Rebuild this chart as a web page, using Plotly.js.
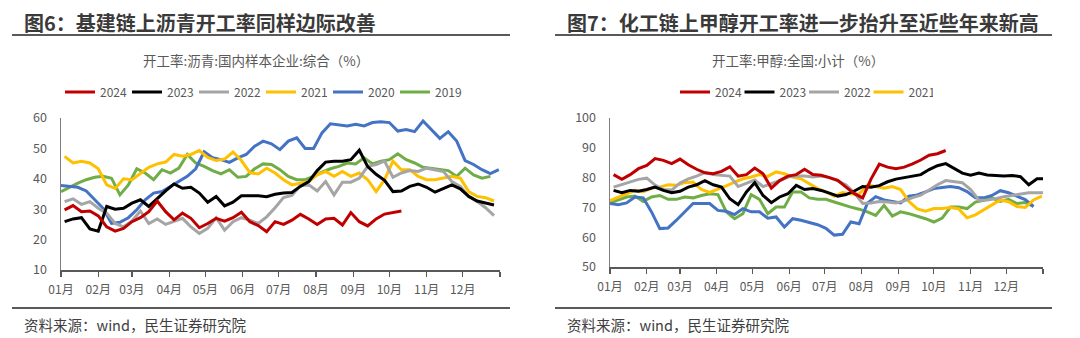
<!DOCTYPE html>
<html><head><meta charset="utf-8">
<script src="https://cdn.plot.ly/plotly-3.0.1.min.js"></script>
<style>html,body{margin:0;padding:0;background:#fff;}#chart{width:1080px;height:338px;}</style>
</head><body><div id="chart"></div>
<script>
// ---------- shared ----------
const monthLabels = ['01月','02月','03月','04月','05月','06月','07月','08月','09月','10月','11月','12月'];
const monthStarts = ['2001-01-01','2001-02-01','2001-03-01','2001-04-01','2001-05-01','2001-06-01','2001-07-01','2001-08-01','2001-09-01','2001-10-01','2001-11-01','2001-12-01','2002-01-01'];
const years = ['2024','2023','2022','2021','2020','2019'];
const yearColors = ['#C00000','#000000','#A5A5A5','#FFC000','#4472C4','#70AD47'];

// ---------- 图6 沥青开工率 (%) weekly ----------
const asphaltStart = ['2001-01-04','2001-01-04','2001-01-04','2001-01-04','2001-01-01','2001-01-01'];
const asphalt2024 = [29.8,31.2,29.2,29.4,27.8,24.2,22.8,23.7,25.9,27.2,29.2,32.7,29.2,26.5,28.7,27,23.9,25.3,27,26.1,27.2,29,25.9,24.6,22.6,25.9,25,26.4,28.3,26.8,25,26.8,27,24.8,28.9,25.9,24.5,26.8,28.4,28.9,29.4];
const asphalt2023 = [25.9,26.8,27.2,23.5,22.8,30.9,30,30.3,32,33.1,30.9,33.6,36,38.3,36.9,37.2,35.3,32.3,34.2,31.1,32.3,34.4,34.5,34.4,34.1,34.9,35.3,35.5,37.5,39.1,42.7,45.5,45.8,45.8,46.3,49.4,44,41.5,39.5,35.8,36,37.5,38.3,37.2,35.6,36.7,38,36.7,34.2,32.7,32,31.4];
const asphalt2022 = [32.5,33.4,31.6,32.5,30.3,28.7,25.3,24.2,26.1,29.4,25.3,26.8,25,25.9,27,24.2,22,23.7,27.2,23.1,25.9,27.2,26.4,25.3,27.5,30.5,33.8,34.5,37.8,38,36,39.1,34.7,38.9,38.9,40.2,44.1,44.7,45.8,40.5,41.9,42.7,42.4,43.5,43,42.4,39.1,37.5,34.2,32.5,30.5,27.9];
const asphalt2021 = [47.4,45.2,45.8,45.2,43.3,38,36.8,40,39.7,41.9,43.8,44.9,45.5,48,47.4,48,49.3,47,46,46.5,48.8,46,42,41.6,43.5,41.9,39.7,38,38.6,39.1,41.3,42.4,40.8,42.4,40.8,41.9,39.7,35.8,39.7,45.8,43,43,40.8,39.7,39.7,40.2,40.8,40.2,35.8,34.2,33.8,32.7];
const asphalt2020 = [37.8,37.5,37.2,36,33.1,30.3,25.3,25.7,27.2,29.8,33.1,35.3,35.8,37.5,39.1,40.8,43.3,48.9,46.9,46.3,45.4,46.9,48,50.7,52.4,51.5,49.6,52.4,53.5,50,50,55.1,58.1,57.7,57.4,57.9,57.4,58.5,58.8,58.5,55.7,56.2,55.5,59,56.2,53.3,55.5,52.4,46,44.7,43,41.7,43];
const asphalt2019 = [35.8,37.2,38.6,39.7,40.5,40.8,40.2,34.7,38,43.3,41.9,39.7,43,41.9,43.5,48,45.2,44.1,42.7,41.6,43,40.5,40.8,43.3,44.9,44.7,43,40.8,39.7,39.7,40.8,42.2,43.3,44.1,45.2,44.9,46.9,44.9,45.8,46.3,48.2,46.3,45.2,43.8,43.5,43,42.7,40.8,43.5,41.3,40.2,40.8];
const asphaltSeries = [asphalt2024,asphalt2023,asphalt2022,asphalt2021,asphalt2020,asphalt2019];

// ---------- 图7 甲醇开工率 (%) weekly ----------
const methanolStart = ['2001-01-04','2001-01-04','2001-01-04','2001-01-01','2001-01-01','2001-01-01'];
const methanol2024 = [81,79.4,81,83,84.1,86.4,85.8,84.7,86.2,84.3,82.8,81.6,81.3,82.1,83.6,80.5,81,83.2,81.3,76.5,79,80.5,81,82.8,81,80.8,80,79.1,76.8,74.6,73.2,79.5,84.5,83.5,83,83.5,84.6,85.9,87.5,88,89.1];
const methanol2023 = [75.7,74.9,75.7,75.4,76,76.8,75.7,74.9,75.4,76.8,77.6,79,77.6,76.8,72.9,70.9,75.2,78.3,74,71.6,73.5,74.6,77.4,76,76.3,75.7,74.8,73.8,74.3,75.5,77,76.8,77.3,78.6,79.5,80,80.4,81,82.7,84,84.7,83,81.5,80.8,81.5,80.9,80.7,80.5,80.7,80.3,77.6,79.6,79.6];
const methanol2022 = [76.8,77.6,78.5,79.4,79.8,77.5,76,75.8,78.2,79.6,80.5,81.7,81,80.8,80.5,77,78,79.2,77,77.9,79,80.2,80.5,80.5,80.2,80.5,80,78.9,77.5,74.9,71.3,71.5,72,71.8,71.5,72.2,73.3,74.1,75.8,77.6,79,78.7,78.3,76,72.4,72.5,72.9,73.6,74.1,74.6,74.9,74.9,74.9];
const methanol2021 = [72.3,73.5,74.6,75.7,75.3,76.5,76.8,77.6,77.4,78.3,78.5,76,75,76,77.2,78.5,79.6,80.2,81,80.4,81.9,81.3,80.2,79.6,78,76.3,75.2,73.8,75,74.5,74.5,77.5,77,76.4,77,76,72,69.5,68.7,69.6,69.6,70,69.5,66.5,67.5,69.2,71,72.5,71.9,70.3,70,72.5,73.8];
const methanol2020 = [71.3,70.9,71.5,73.5,73.2,68.5,62.9,63.1,65.7,68.5,71.3,71.3,71.3,69,68.7,67.6,69.6,68.5,68.5,66.4,66.8,63.4,66.2,65.7,65,64.2,63,60.7,61,65.1,64.5,71.4,73.6,72.5,72,71.5,73.8,74.2,75.2,76.3,76.7,77,76.6,75.3,73.2,73.2,74,75.6,74.9,73.8,72.6,70.3];
const methanol2019 = [71.5,72.5,73.5,73.8,72,73.5,74,72.7,72.7,73.5,73.2,74,74.6,74.3,68.5,66.2,67.9,74.3,72.7,67.9,70.1,70.1,75.2,75.2,73.2,72.7,72.7,71.8,70.9,70.1,69.4,68.5,67.3,70.7,67.1,68.5,67.9,67.1,66.2,65.1,66.4,70.1,70.1,69.6,71.8,72.4,73.2,72,72.7,71.3,71.6,70.3];
const methanolSeries = [methanol2024,methanol2023,methanol2022,methanol2021,methanol2020,methanol2019];
const methanolLegendYears = 4;

// ---------- build ----------
function weekDates(start, n){
  const out=[]; const d0=new Date(start+'T00:00:00Z');
  for(let i=0;i<n;i++){const d=new Date(d0.getTime()+i*7*86400000); out.push(d.toISOString().slice(0,10));}
  return out;
}
const traces=[];
for(let k=years.length-1;k>=0;k--){
  traces.push({type:'scatter',mode:'lines',name:years[k],x:weekDates(asphaltStart[k],asphaltSeries[k].length),y:asphaltSeries[k],
    xaxis:'x',yaxis:'y',line:{color:yearColors[k],width:3},legend:'legend',legendrank:k+1,hoverinfo:'skip'});
}
for(let k=years.length-1;k>=0;k--){
  traces.push({type:'scatter',mode:'lines',name:years[k],x:weekDates(methanolStart[k],methanolSeries[k].length),y:methanolSeries[k],
    xaxis:'x2',yaxis:'y2',line:{color:yearColors[k],width:3},legend:'legend2',legendrank:k+1,showlegend:k<methanolLegendYears,hoverinfo:'skip'});
}
const W=1080,H=338;
const font='"Noto Sans CJK SC","Noto Sans",sans-serif';
const tickText=monthLabels.concat(['']);
function xax(l,r){return {domain:[l/W,r/W],type:'date',range:['2001-01-01','2002-01-01'],tickmode:'array',tickvals:monthStarts,ticktext:tickText,
  ticks:'outside',ticklen:5,tickwidth:1.2,tickcolor:'#595959',showline:true,linecolor:'#595959',linewidth:1.5,showgrid:false,zeroline:false,
  tickfont:{family:font,size:12,color:'#595959'},ticklabelstandoff:3,fixedrange:true};}
function yax(top,bot,lo,hi){return {domain:[(H-bot)/H,(H-top)/H],range:[lo,hi],dtick:10,tick0:0,showline:true,linecolor:'#7f7f7f',linewidth:1.5,
  showgrid:false,zeroline:false,ticks:'',tickfont:{family:font,size:12.5,color:'#595959'},ticklabelstandoff:10,fixedrange:true};}
const layout={width:W,height:H,margin:{l:0,r:0,t:0,b:0},paper_bgcolor:'#fff',plot_bgcolor:'#fff',font:{family:font},
  xaxis:Object.assign(xax(61,500),{anchor:'y'}),yaxis:Object.assign(yax(118,270,10,60),{anchor:'x'}),
  xaxis2:Object.assign(xax(610,1043),{anchor:'y2'}),yaxis2:Object.assign(yax(118,267,50,100),{anchor:'x2'}),
  legend:{orientation:'h',x:60/W,y:1-92/H,xanchor:'left',yanchor:'middle',entrywidth:22,entrywidthmode:'pixels',font:{family:font,size:12,color:'#595959'},traceorder:'normal',bgcolor:'rgba(0,0,0,0)'},
  legend2:{orientation:'h',x:675/W,y:1-92/H,xanchor:'left',yanchor:'middle',entrywidth:19.5,entrywidthmode:'pixels',font:{family:font,size:12,color:'#595959'},traceorder:'normal',bgcolor:'rgba(0,0,0,0)'},
  shapes:[
    {type:'line',xref:'paper',yref:'paper',x0:12/W,x1:510/W,y0:1-35/H,y1:1-35/H,line:{color:'#595959',width:2}},
    {type:'line',xref:'paper',yref:'paper',x0:555/W,x1:1052/W,y0:1-35/H,y1:1-35/H,line:{color:'#595959',width:2}},
    {type:'line',xref:'paper',yref:'paper',x0:12/W,x1:510/W,y0:1-308/H,y1:1-308/H,line:{color:'#595959',width:2}},
    {type:'line',xref:'paper',yref:'paper',x0:555/W,x1:1052/W,y0:1-308/H,y1:1-308/H,line:{color:'#595959',width:2}}
  ],
  annotations:[
    {xref:'paper',yref:'paper',x:22/W,y:1-22/H,xanchor:'left',yanchor:'middle',showarrow:false,text:'<b>图6：基建链上沥青开工率同样边际改善</b>',font:{family:font,size:20,color:'#3a3a3a'}},
    {xref:'paper',yref:'paper',x:565/W,y:1-22/H,xanchor:'left',yanchor:'middle',showarrow:false,text:'<b>图7：化工链上甲醇开工率进一步抬升至近些年来新高</b>',font:{family:font,size:20,color:'#3a3a3a'}},
    {xref:'paper',yref:'paper',x:256/W,y:1-60/H,xanchor:'center',yanchor:'middle',showarrow:false,text:'开工率:沥青:国内样本企业:综合（%）',font:{family:font,size:13.5,color:'#595959'}},
    {xref:'paper',yref:'paper',x:798/W,y:1-60/H,xanchor:'center',yanchor:'middle',showarrow:false,text:'开工率:甲醇:全国:小计（%）',font:{family:font,size:13.5,color:'#595959'}},
    {xref:'paper',yref:'paper',x:22/W,y:1-324/H,xanchor:'left',yanchor:'middle',showarrow:false,text:'资料来源：wind，民生证券研究院',font:{family:font,size:14.5,color:'#404040'}},
    {xref:'paper',yref:'paper',x:565/W,y:1-324/H,xanchor:'left',yanchor:'middle',showarrow:false,text:'资料来源：wind，民生证券研究院',font:{family:font,size:14.5,color:'#404040'}}
  ]
};
Plotly.newPlot('chart',traces,layout,{staticPlot:true,displayModeBar:false});
</script></body></html>
